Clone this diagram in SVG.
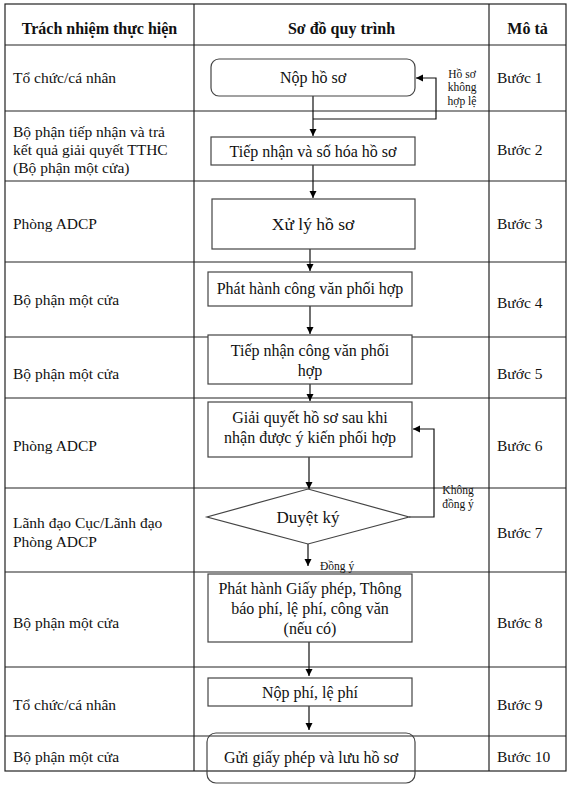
<svg xmlns="http://www.w3.org/2000/svg" width="576" height="791" viewBox="0 0 576 791">
<defs>
<marker id="ah" markerWidth="8" markerHeight="8" refX="7" refY="4" orient="auto" markerUnits="userSpaceOnUse">
<path d="M0,0.5 L7,4 L0,7.5 Z" fill="#000"/>
</marker>
<style>
text{font-family:"Liberation Serif","Times New Roman",serif;fill:#111;}
.hd{font-size:16px;font-weight:bold;text-anchor:middle;}
.lb{font-size:15.5px;}
.st{font-size:15.5px;}
.nt{font-size:16px;text-anchor:middle;}
.sm{font-size:11.5px;}
.grid{stroke:#222;stroke-width:1.2;fill:none;}
.box{fill:#fff;stroke:#444;stroke-width:1.2;}
.conn{stroke:#111;stroke-width:1.2;fill:none;}
</style>
</defs>
<rect width="576" height="791" fill="#fff"/>
<g id="table">
<rect class="grid" x="5" y="4" width="561" height="767"/>
<line class="grid" x1="194" y1="4" x2="194" y2="771"/>
<line class="grid" x1="489" y1="4" x2="489" y2="771"/>
<line class="grid" x1="5" y1="45" x2="566" y2="45"/>
<line class="grid" x1="5" y1="111" x2="566" y2="111"/>
<line class="grid" x1="5" y1="181" x2="566" y2="181"/>
<line class="grid" x1="5" y1="262" x2="566" y2="262"/>
<line class="grid" x1="5" y1="337" x2="566" y2="337"/>
<line class="grid" x1="5" y1="398" x2="566" y2="398"/>
<line class="grid" x1="5" y1="488" x2="566" y2="488"/>
<line class="grid" x1="5" y1="572" x2="566" y2="572"/>
<line class="grid" x1="5" y1="667" x2="566" y2="667"/>
<line class="grid" x1="5" y1="736" x2="566" y2="736"/>
<text class="hd" x="99.5" y="34">Trách nhiệm thực hiện</text>
<text class="hd" x="341.5" y="34">Sơ đồ quy trình</text>
<text class="hd" x="527.5" y="34">Mô tả</text>
<text class="lb" x="13" y="83">Tổ chức/cá nhân</text>
<text class="lb" x="13" y="137">Bộ phận tiếp nhận và trả</text>
<text class="lb" x="13" y="155">kết quả giải quyết TTHC</text>
<text class="lb" x="13" y="173">(Bộ phận một cửa)</text>
<text class="lb" x="13" y="229">Phòng ADCP</text>
<text class="lb" x="13" y="305">Bộ phận một cửa</text>
<text class="lb" x="13" y="379">Bộ phận một cửa</text>
<text class="lb" x="13" y="451">Phòng ADCP</text>
<text class="lb" x="13" y="528">Lãnh đạo Cục/Lãnh đạo</text>
<text class="lb" x="13" y="547">Phòng ADCP</text>
<text class="lb" x="13" y="628">Bộ phận một cửa</text>
<text class="lb" x="13" y="710">Tổ chức/cá nhân</text>
<text class="lb" x="13" y="762">Bộ phận một cửa</text>
<text class="st" x="497" y="83">Bước 1</text>
<text class="st" x="497" y="155">Bước 2</text>
<text class="st" x="497" y="229">Bước 3</text>
<text class="st" x="497" y="308">Bước 4</text>
<text class="st" x="497" y="379">Bước 5</text>
<text class="st" x="497" y="451">Bước 6</text>
<text class="st" x="497" y="538">Bước 7</text>
<text class="st" x="497" y="628">Bước 8</text>
<text class="st" x="497" y="710">Bước 9</text>
<text class="st" x="497" y="762">Bước 10</text>
</g>
<g id="connectors">
<line class="conn" x1="313" y1="96" x2="313" y2="136" marker-end="url(#ah)"/>
<polyline class="conn" points="313,119 436,119 436,78 416,78" marker-end="url(#ah)"/>
<line class="conn" x1="313" y1="165" x2="313" y2="198" marker-end="url(#ah)"/>
<line class="conn" x1="310" y1="249" x2="310" y2="271" marker-end="url(#ah)"/>
<line class="conn" x1="310" y1="306" x2="310" y2="334" marker-end="url(#ah)"/>
<line class="conn" x1="310" y1="384" x2="310" y2="401" marker-end="url(#ah)"/>
<line class="conn" x1="309" y1="457" x2="309" y2="489" marker-end="url(#ah)"/>
<polyline class="conn" points="409,517 434,517 434,429 413,429" marker-end="url(#ah)"/>
<line class="conn" x1="308" y1="544" x2="308" y2="566" marker-end="url(#ah)"/>
<line class="conn" x1="309" y1="642" x2="309" y2="676" marker-end="url(#ah)"/>
<line class="conn" x1="309" y1="706" x2="309" y2="730" marker-end="url(#ah)"/>
<text class="sm" x="462" y="78" text-anchor="middle">Hồ sơ</text>
<text class="sm" x="462" y="91" text-anchor="middle">không</text>
<text class="sm" x="462" y="105" text-anchor="middle">hợp lệ</text>
<text class="sm" x="458" y="494" text-anchor="middle">Không</text>
<text class="sm" x="458" y="508" text-anchor="middle">đồng ý</text>
<text class="sm" x="320" y="570">Đồng ý</text>
</g>
<g id="n1">
<rect class="box" x="211" y="59" width="204" height="37" rx="8"/>
<text class="nt" x="313" y="83">Nộp hồ sơ</text>
</g>
<g id="n2">
<rect class="box" x="211" y="137" width="204" height="28"/>
<text class="nt" x="313" y="157">Tiếp nhận và số hóa hồ sơ</text>
</g>
<g id="n3">
<rect class="box" x="212" y="199" width="203" height="50"/>
<text class="nt" x="313" y="230" style="font-size:17.5px">Xử lý hồ sơ</text>
</g>
<g id="n4">
<rect class="box" x="208" y="272" width="204" height="34"/>
<text class="nt" x="310" y="294">Phát hành công văn phối hợp</text>
</g>
<g id="n5">
<rect class="box" x="208" y="335" width="204" height="49"/>
<text class="nt" x="310" y="356">Tiếp nhận công văn phối</text>
<text class="nt" x="310" y="376">hợp</text>
</g>
<g id="n6">
<rect class="box" x="208" y="402" width="204" height="55"/>
<text class="nt" x="310" y="423">Giải quyết hồ sơ sau khi</text>
<text class="nt" x="310" y="443">nhận được ý kiến phối hợp</text>
</g>
<g id="n7">
<polygon class="box" points="308,489 409,517 308,544 207,517"/>
<text class="nt" x="308" y="523" style="font-size:17px">Duyệt ký</text>
</g>
<g id="n8">
<rect class="box" x="208" y="574" width="204" height="68"/>
<text class="nt" x="310" y="594">Phát hành Giấy phép, Thông</text>
<text class="nt" x="310" y="614">báo phí, lệ phí, công văn</text>
<text class="nt" x="310" y="634">(nếu có)</text>
</g>
<g id="n9">
<rect class="box" x="208" y="678" width="204" height="28"/>
<text class="nt" x="310" y="698">Nộp phí, lệ phí</text>
</g>
<g id="n10">
<rect class="box" x="207" y="733" width="208" height="50" rx="9" style="fill:none"/>
<text class="nt" x="311" y="763">Gửi giấy phép và lưu hồ sơ</text>
</g>
</svg>
